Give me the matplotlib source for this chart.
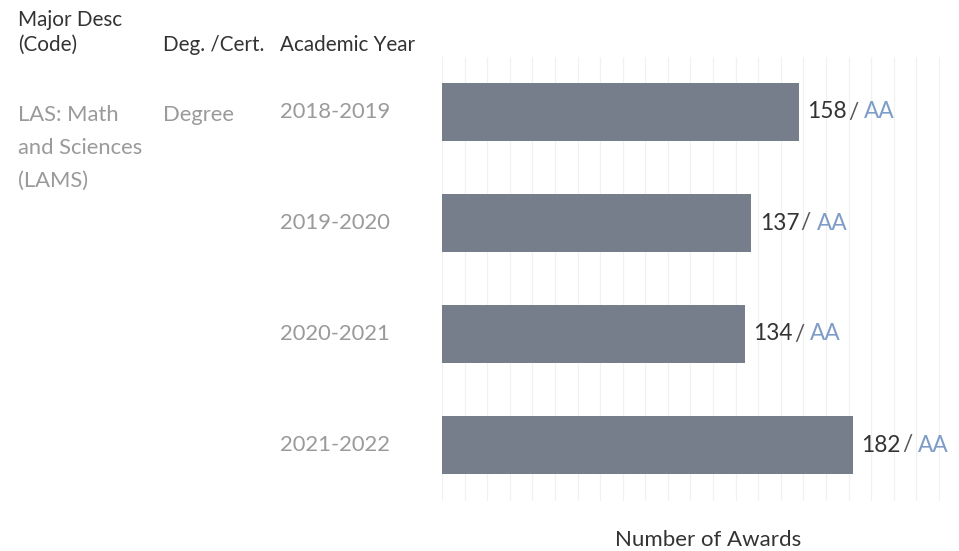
import matplotlib.pyplot as plt
import matplotlib.transforms as mtransforms

plt.rcParams['font.family'] = ['Lato', 'DejaVu Sans']

years = ['2018-2019', '2019-2020', '2020-2021', '2021-2022']
awards = [158, 137, 134, 182]
suffix = 'AA'
major_lines = ['LAS: Math', 'and Sciences', '(LAMS)']
degree = 'Degree'

bar_color = '#777e8b'
dark = '#333333'
light = '#9a9a9a'
blue = '#7d9cc8'

fig = plt.figure(figsize=(9.59, 5.51), dpi=100)
ax = fig.add_axes([442 / 959, 1 - 500.5 / 551, 498 / 959, 444 / 551])

ypos = list(range(len(years)))
ax.barh(ypos, awards, height=0.52, color=bar_color, zorder=2)
ax.set_ylim(len(years) - 0.5, -0.5)
ax.set_xlim(0, 220.5)
ax.set_xticks(range(0, 221, 10))
ax.grid(axis='x', color='#f1f1f1', linewidth=0.9, zorder=0)
ax.tick_params(left=False, bottom=False, labelleft=False, labelbottom=False)
for s in ax.spines.values():
    s.set_visible(False)

fs = 15.8
# value labels: "158/ AA"
for y, v in zip(ypos, awards):
    t = ax.annotate(str(v), xy=(v, y), xytext=(6, 0), textcoords='offset points',
                    va='center', ha='left', fontsize=16.3, color=dark)
    sl = ax.annotate('/', xy=(1, 0.5), xycoords=t, xytext=(1, 0), textcoords='offset points',
                     va='center', ha='left', fontsize=16.3, color='#555555')
    ax.annotate(suffix, xy=(1, 0.5), xycoords=sl, xytext=(4, 0), textcoords='offset points',
                va='center', ha='left', fontsize=16.3, color=blue)

# year labels in the row header column
trans = mtransforms.blended_transform_factory(fig.transFigure, ax.transData)
for y, yr in zip(ypos, years):
    ax.text(280 / 959, y, yr, transform=trans, ha='left', va='center',
            fontsize=fs, color=light)

# column headers
hfs = 14.9
fig.text(18 / 959, 1 - 20 / 551, 'Major Desc', ha='left', va='center', fontsize=hfs, color=dark)
fig.text(18 / 959, 1 - 45 / 551, '(Code)', ha='left', va='center', fontsize=hfs, color=dark)
fig.text(163 / 959, 1 - 45 / 551, 'Deg. /Cert.', ha='left', va='center', fontsize=hfs, color=dark)
fig.text(280 / 959, 1 - 45 / 551, 'Academic Year', ha='left', va='center', fontsize=hfs, color=dark)

for i, line in enumerate(major_lines):
    fig.text(18 / 959, 1 - (115 + 33 * i) / 551, line, ha='left', va='center',
             fontsize=fs, color=light)
fig.text(163 / 959, 1 - 115 / 551, degree, ha='left', va='center', fontsize=fs, color=light)

fig.text(708 / 959, 1 - 540 / 551, 'Number of Awards', ha='center', va='center',
         fontsize=16, color=dark)

fig.savefig('out.png', dpi=100)
